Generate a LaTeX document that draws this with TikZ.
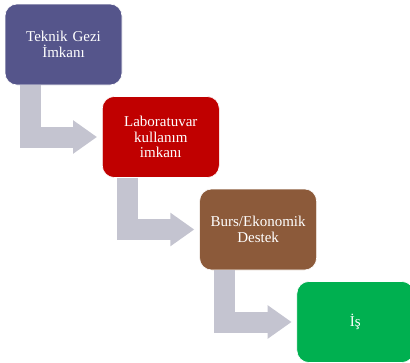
\documentclass[tikz,border=0pt]{standalone}
\usepackage{fontspec}
\setmainfont{Liberation Serif}
\usetikzlibrary{positioning,calc,arrows.meta}
\definecolor{gezicolor}{RGB}{85,85,139}
\definecolor{labcolor}{RGB}{192,0,0}
\definecolor{burscolor}{RGB}{140,90,58}
\definecolor{iscolor}{RGB}{0,176,80}
\definecolor{flowcolor}{RGB}{196,196,208}

\begin{document}
\begin{tikzpicture}[%
    x=1pt, y=1pt,                     % Work in pixels of the reference
    node distance=92.5pt and 97.3pt,  % Centre to centre step of the stairs
    ]
\tikzset{
  base/.style={draw=white, line width=0.6pt, on grid, rounded corners=12pt,
    align=center, text=white, text width=105pt, inner sep=6pt,
    minimum height=81pt, font=\fontsize{15}{15.5}\selectfont},
  gezi/.style={base, fill=gezicolor},
  lab/.style={base, fill=labcolor},
  burs/.style={base, fill=burscolor},
  isbox/.style={base, fill=iscolor},
  flow/.style={draw=flowcolor, line width=21pt, line join=miter,
    -{Triangle[length=24pt,width=32pt]}},
}
\useasboundingbox (0,0) rectangle (410,-362);

\node [gezi] (b1) at (63.5,-44.5) {Teknik Gezi\\İmkanı};
\node [lab,below right=of b1] (b2) {Laboratuvar\\kullanım\\imkanı};
\node [burs,below right=of b2] (b3) {Burs/Ekonomik\\Destek};
\node [isbox,below right=of b3] (b4) {İş};

\draw [flow] ($(b1.south west)+(25.5,0)$) |- ($(b2.west)+(-5,0)$);
\draw [flow] ($(b2.south west)+(25.5,0)$) |- ($(b3.west)+(-5,0)$);
\draw [flow] ($(b3.south west)+(25.5,0)$) |- ($(b4.west)+(-5,0)$);

\end{tikzpicture}
\end{document}
